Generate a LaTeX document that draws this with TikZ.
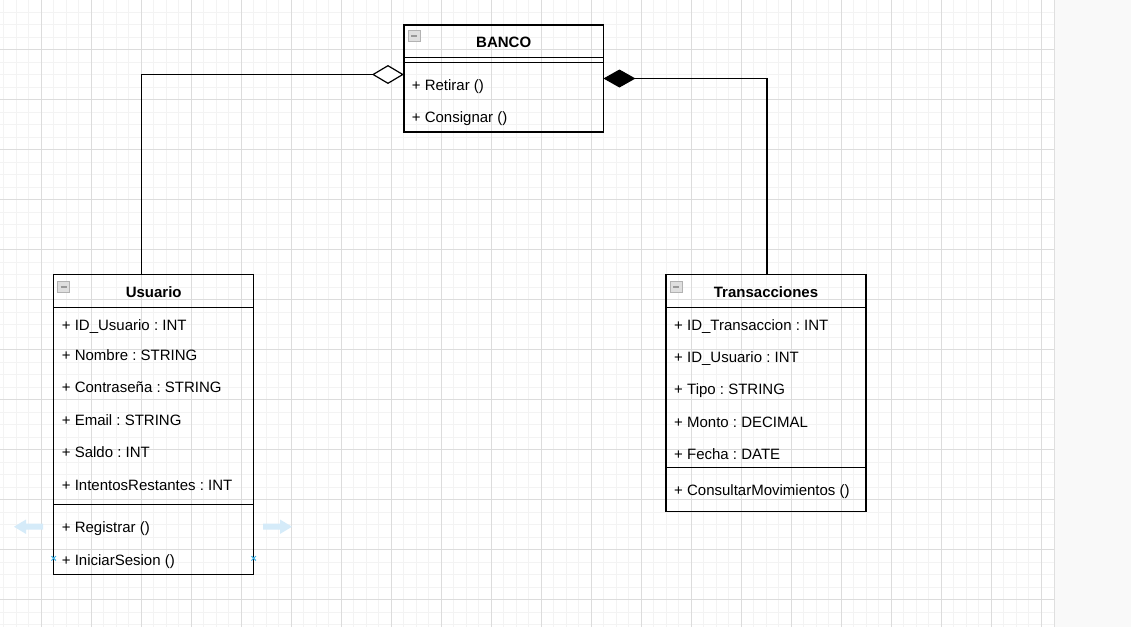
\documentclass[tikz,border=0pt]{standalone}
\usepackage{fontspec}
\setmainfont{Liberation Sans}
\usetikzlibrary{arrows.meta}
\definecolor{gridminor}{HTML}{F3F3F3}
\definecolor{gridmajor}{HTML}{DCDCDC}
\definecolor{hintblue}{HTML}{D5EBF9}
\definecolor{pointblue}{HTML}{3DB3EA}
\definecolor{panelgray}{HTML}{F9F9F9}
\frenchspacing

\begin{document}
\begin{tikzpicture}[x=1pt,y=-1pt,font=\fontsize{15}{18}\selectfont,
	umlbox/.style={draw, line width=1.2pt, inner sep=0pt, outer sep=0pt},
	member/.style={anchor=base west, inner sep=0pt},
	classname/.style={anchor=base, inner sep=0pt, font=\fontsize{15}{18}\selectfont\bfseries},
	sep/.style={line width=1.2pt},
	link/.style={line width=1.2pt},
	icon/.style={draw=gray!60, fill=gray!25, line width=0.8pt},
	iconbar/.style={draw=gray!80, line width=1.8pt},
	hint/.style={fill=hintblue, draw=none}]
	\useasboundingbox (0,0) rectangle (1131,627);
	% background grid
	\fill[white] (0,0) rectangle (1054,627);
	\fill[panelgray] (1054,0) rectangle (1131,627);
	\foreach \gx in {3.7,16.2,...,1053} {\draw[gridminor, line width=1pt] (\gx,0) -- (\gx,627);}
	\foreach \gy in {12.2,24.7,...,627} {\draw[gridminor, line width=1pt] (0,\gy) -- (1054,\gy);}
	\foreach \gx in {41.2,91.2,...,1053} {\draw[gridmajor, line width=1pt] (\gx,0) -- (\gx,627);}
	\foreach \gy in {49.7,99.7,...,627} {\draw[gridmajor, line width=1pt] (0,\gy) -- (1054,\gy);}
	\draw[gray!25, line width=1.5pt] (1054.5,0) -- (1054.5,627);

	% classes
	\node[umlbox, minimum width=199.5pt, minimum height=107pt] (banco) at (503.7,78.5) {};
	\node[umlbox, minimum width=200pt, minimum height=299.6pt] (usuario) at (153.7,424.5) {};
	\node[umlbox, minimum width=200pt, minimum height=237pt] (transacciones) at (766,393.2) {};

	\draw[sep] (banco.west |- 0,57.3) -- (banco.east |- 0,57.3);
	\draw[sep] (banco.west |- 0,62.7) -- (banco.east |- 0,62.7);
	\draw[sep] (usuario.west |- 0,307.3) -- (usuario.east |- 0,307.3);
	\draw[sep] (usuario.west |- 0,504.3) -- (usuario.east |- 0,504.3);
	\draw[sep] (transacciones.west |- 0,307.3) -- (transacciones.east |- 0,307.3);
	\draw[sep] (transacciones.west |- 0,467.3) -- (transacciones.east |- 0,467.3);

	% collapse icons
	\draw[icon] ([shift={(4.5,5.5)}]banco.north west) rectangle ++(12,11);
	\draw[iconbar] ([shift={(7.5,11)}]banco.north west) -- ++(6,0);
	\draw[icon] ([shift={(4,7)}]usuario.north west) rectangle ++(12,11);
	\draw[iconbar] ([shift={(7,12.5)}]usuario.north west) -- ++(6,0);
	\draw[icon] ([shift={(4,7)}]transacciones.north west) rectangle ++(12,11);
	\draw[iconbar] ([shift={(7,12.5)}]transacciones.north west) -- ++(6,0);

	\node[classname] (banconame) at (503.7,47.3) {BANCO};
	\node[member] (retirar) at (411.7,90.3) {+ Retirar ()};
	\node[member] (consignar) at (411.7,122.3) {+ Consignar ()};

	\node[classname] (usuarioname) at (153.7,297) {Usuario};
	\node[member] (uid) at (61.7,330.3) {+ ID\_Usuario : INT};
	\node[member] (unombre) at (61.7,360.3) {+ Nombre : STRING};
	\node[member] (uclave) at (61.7,392) {+ Contraseña : STRING};
	\node[member] (uemail) at (61.7,425.3) {+ Email : STRING};
	\node[member] (usaldo) at (61.7,457) {+ Saldo : INT};
	\node[member] (uintentos) at (61.7,490.3) {+ IntentosRestantes : INT};
	\node[member] (registrar) at (61.7,532) {+ Registrar ()};
	\node[member] (iniciar) at (61.7,565.3) {+ IniciarSesion ()};

	\node[classname] (transname) at (766,297) {Transacciones};
	\node[member] (tid) at (674,330.3) {+ ID\_Transaccion : INT};
	\node[member] (tusuario) at (674,362) {+ ID\_Usuario : INT};
	\node[member] (ttipo) at (674,394.6) {+ Tipo : STRING};
	\node[member] (tmonto) at (674,427.6) {+ Monto : DECIMAL};
	\node[member] (tfecha) at (674,459.6) {+ Fecha : DATE};
	\node[member] (consultar) at (674,495.3) {+ ConsultarMovimientos ()};

	% relations
	\draw[link, -{Diamond[fill=white, length=32pt, width=19pt]}] ([xshift=-12pt]usuario.north) |- ([yshift=4pt]banco.west); % aggregation
	\draw[link, -{Diamond[length=32pt, width=18pt]}] ([xshift=1pt]transacciones.north) |- (banco.east); % composition

	% hover hints
	\fill[hint] (43,523.7) -- (26,523.7) -- (26,519.5) -- (14,526.7) -- (26,533.9) -- (26,529.7) -- (43,529.7) -- cycle;
	\fill[hint] (263,523.7) -- (280,523.7) -- (280,519.5) -- (292,526.7) -- (280,533.9) -- (280,529.7) -- (263,529.7) -- cycle;
	\draw[pointblue, line width=1pt] (51.5,556.1) -- (55.9,560.5) (51.5,560.5) -- (55.9,556.1);
	\draw[pointblue, line width=1pt] (251.5,556.1) -- (255.9,560.5) (251.5,560.5) -- (255.9,556.1);
\end{tikzpicture}
\end{document}
